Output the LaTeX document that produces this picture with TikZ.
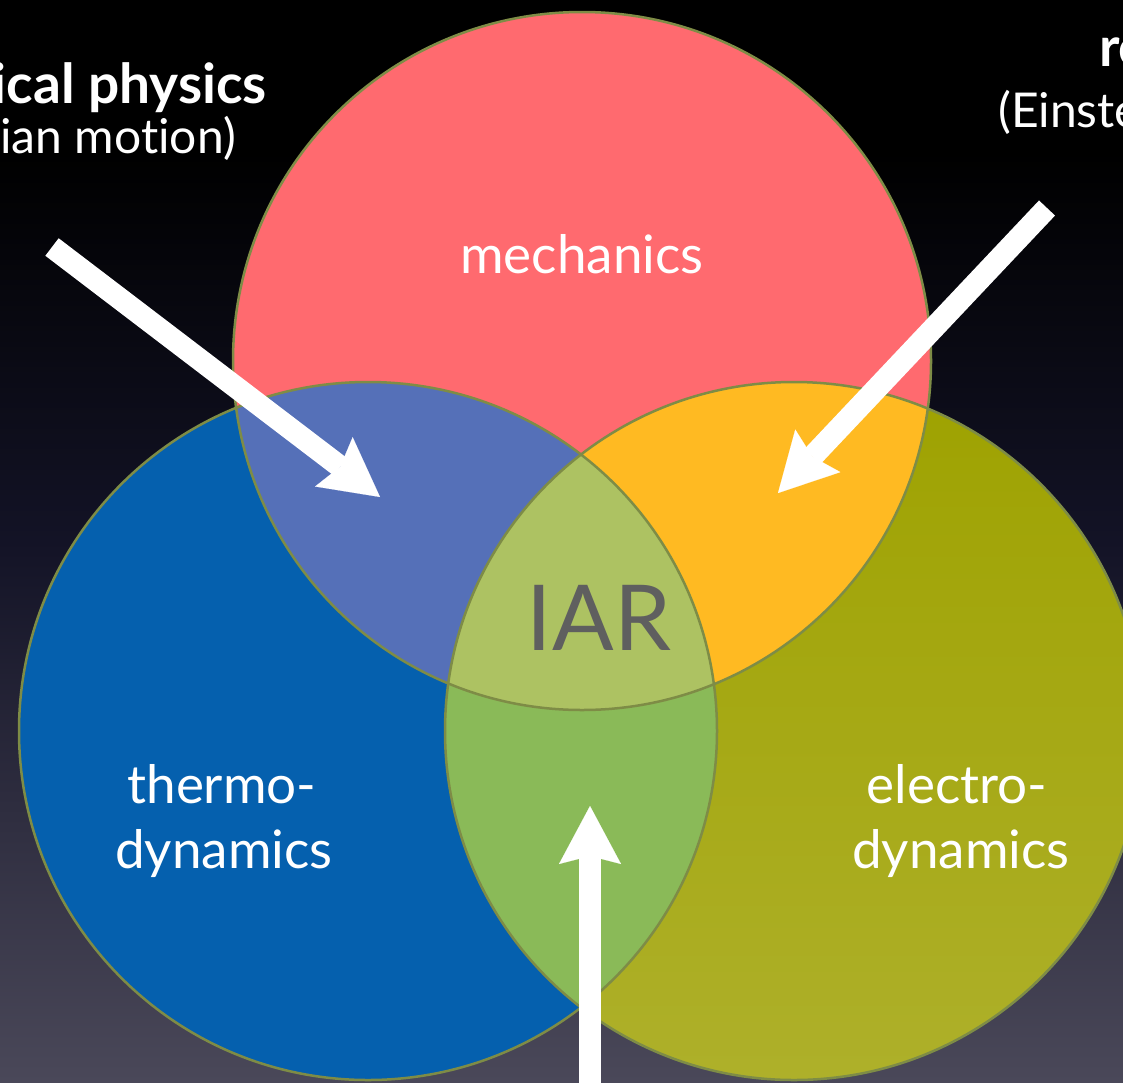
\documentclass[tikz,border=0pt]{standalone}
\usepackage{fontspec}
\setmainfont{Lato}[Ligatures=NoCommon]
\usetikzlibrary{arrows.meta}
\definecolor{mechC}{HTML}{FF6A6F}
\definecolor{thermC}{HTML}{0560AE}
\definecolor{elecTop}{HTML}{9EA200}
\definecolor{elecBot}{HTML}{AEB02A}
\definecolor{mtC}{HTML}{5570B8}
\definecolor{meC}{HTML}{FFBA22}
\definecolor{teC}{HTML}{8ABA58}
\definecolor{allC}{HTML}{ADC262}
\definecolor{edgeC}{HTML}{7E8C46}
\definecolor{iarC}{HTML}{5F5F5F}
\definecolor{bgbot}{HTML}{4A4859}
\definecolor{bgmid}{HTML}{131326}
\pgfdeclareverticalshading{bgshade}{100bp}{color(0bp)=(bgbot); color(25bp)=(bgbot); color(50bp)=(bgmid); color(68bp)=(black); color(100bp)=(black)}
\tikzset{
  setname/.style={circle, inner sep=0pt, minimum size=698pt},
  ring/.style={draw=edgeC, line width=2.5pt},
  label/.style={text=white, inner sep=0pt, anchor=base, font=\fontsize{53}{60}\selectfont},
  toptext/.style={text=white, inner sep=0pt, font=\fontsize{48}{58}\selectfont},
  topbold/.style={text=white, inner sep=0pt, font=\fontsize{55}{60}\selectfont\bfseries},
  bigarrow/.style={draw=white, line width=22pt, -{Stealth[length=58pt,width=62pt,inset=8pt,line width=0.1pt]}}
}
\begin{document}
\begin{tikzpicture}[x=1pt,y=-1pt]
\useasboundingbox (0,0) rectangle (1123,1082);
\clip (0,0) rectangle (1123,1082);
\shade[shading=bgshade] (0,0) rectangle (1123,1082);

\coordinate (cM) at (582,361);
\coordinate (cT) at (368,731);
\coordinate (cE) at (794,731);

% sets
\node[setname, fill=mechC] (mech) at (cM) {};
\node[setname, fill=thermC] (therm) at (cT) {};
\shade[top color=elecTop, bottom color=elecBot] (cE) circle[radius=349pt];
\node[setname] (elec) at (cE) {};

% pairwise overlaps
\begin{scope}
  \clip (cM) circle[radius=349pt];
  \fill[mtC] (cT) circle[radius=349pt];
  \fill[meC] (cE) circle[radius=349pt];
\end{scope}
\begin{scope}
  \clip (cT) circle[radius=349pt];
  \fill[teC] (cE) circle[radius=349pt];
  \clip (cE) circle[radius=349pt];
  \fill[allC] (cM) circle[radius=349pt];
\end{scope}

% outlines
\draw[ring] (cM) circle[radius=349pt];
\draw[ring] (cT) circle[radius=349pt];
\draw[ring] (cE) circle[radius=349pt];

% labels
\node[label] (lmech) at (582,273) {mechanics};
\node[label] (ltherm1) at (222,803) {thermo-};
\node[label] (ltherm2) at (224,868) {dynamics};
\node[label] (lelec1) at (957,803) {electro-};
\node[label] (lelec2) at (961,868) {dynamics};
\node[text=iarC, inner sep=0pt, anchor=base, font=\fontsize{91}{100}\selectfont] (iar) at (599,650) {IAR};

% outside fields
\node[topbold, anchor=base east] (stat1) at (267,103) {statistical physics};
\node[toptext, anchor=base east] (stat2) at (236,153) {(Brownian motion)};
\node[topbold, anchor=base west] (rel1) at (1099,66) {relativity};
\node[toptext, anchor=base west] (rel2) at (998,127) {(Einstein)};

% arrows
\coordinate (aLs) at (52,247);
\coordinate (aLe) at (380,497);
\coordinate (aRs) at (1047,208);
\coordinate (aRe) at (778,493);
\coordinate (aBs) at (590,1095);
\coordinate (aBe) at (590,806);
\draw[bigarrow] (aLs) -- (aLe);
\draw[bigarrow] (aRs) -- (aRe);
\draw[bigarrow] (aBs) -- (aBe);
\end{tikzpicture}
\end{document}
